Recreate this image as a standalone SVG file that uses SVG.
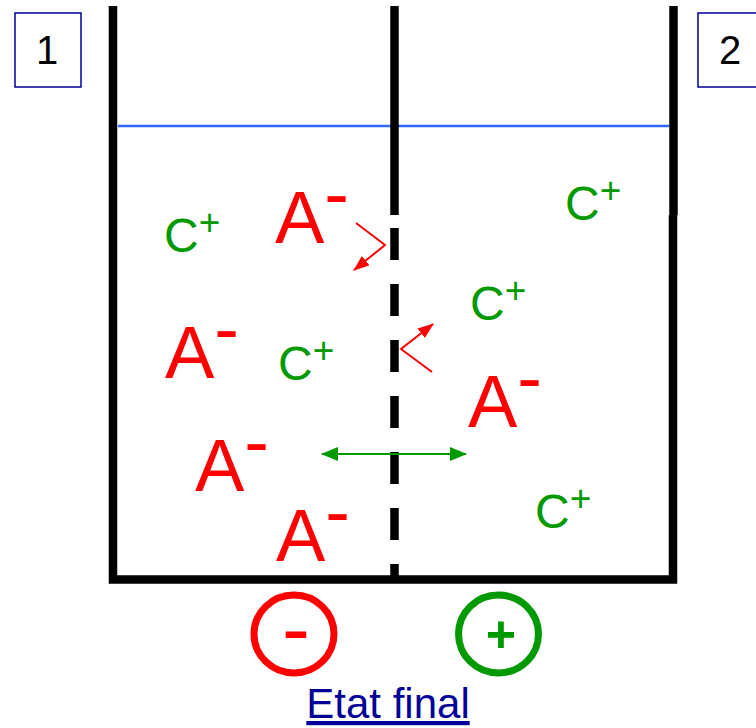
<svg xmlns="http://www.w3.org/2000/svg" width="756" height="728" viewBox="0 0 756 728">
<style>
text{font-family:"Liberation Sans",Arial,sans-serif}
.an{fill:#FF0000;font-size:74px}
.ca{fill:#009900;font-size:48px}
.sup{font-size:37px}
.wall{stroke:#000;fill:none;stroke-width:8.5}
.box{fill:#fff;stroke:#000099;stroke-width:1.5}
.num{font-size:40px;fill:#000;text-anchor:middle}
</style>
<defs>
<marker id="hr" viewBox="0 0 16 12" refX="15" refY="6" markerWidth="16" markerHeight="12" markerUnits="userSpaceOnUse" orient="auto"><path d="M0,0 L16,6 L0,12 z" fill="#FF0000"/></marker>
<marker id="hg" viewBox="0 0 17 14" refX="16" refY="7" markerWidth="17" markerHeight="14" markerUnits="userSpaceOnUse" orient="auto-start-reverse"><path d="M0,0 L17,7 L0,14 z" fill="#009900"/></marker>
</defs>
<rect width="756" height="728" fill="#fff"/>
<g id="box1"><rect class="box" x="15" y="13" width="66" height="74"/><text class="num" x="47" y="64">1</text></g>
<g id="box2"><rect class="box" x="698" y="13" width="66" height="74"/><text class="num" x="730" y="64">2</text></g>
<g id="container">
<line x1="118" y1="126" x2="669" y2="126" stroke="#3366FF" stroke-width="2.5"/>
<line class="wall" x1="113" y1="6" x2="113" y2="150"/>
<path class="wall" d="M113,150 V579.5 H673 V215" stroke-linejoin="miter"/>
<line class="wall" x1="673.5" y1="6" x2="673.5" y2="215" stroke-width="9"/>
<line class="wall" x1="394.5" y1="6" x2="394.5" y2="215" stroke-width="9"/>
<line class="wall" x1="394.5" y1="228" x2="394.5" y2="580" stroke-width="9" stroke-dasharray="32 24"/>
</g>
<g id="anions">
<text class="an" x="275" y="243">A<tspan dy="-24">-</tspan></text>
<text class="an" x="165" y="378">A<tspan dy="-24">-</tspan></text>
<text class="an" x="468" y="427">A<tspan dy="-24">-</tspan></text>
<text class="an" x="195" y="491">A<tspan dy="-24">-</tspan></text>
<text class="an" x="276" y="561">A<tspan dy="-24">-</tspan></text>
</g>
<g id="cations">
<text class="ca" x="164" y="252">C<tspan class="sup" dy="-17">+</tspan></text>
<text class="ca" x="565" y="220">C<tspan class="sup" dy="-17">+</tspan></text>
<text class="ca" x="470" y="320">C<tspan class="sup" dy="-17">+</tspan></text>
<text class="ca" x="278" y="380">C<tspan class="sup" dy="-17">+</tspan></text>
<text class="ca" x="535" y="528">C<tspan class="sup" dy="-17">+</tspan></text>
</g>
<g id="connectors" fill="none">
<polyline points="356,223 385,245 354,270" stroke="#FF0000" stroke-width="2" marker-end="url(#hr)"/>
<polyline points="432,372 401,349 433,324" stroke="#FF0000" stroke-width="2" marker-end="url(#hr)"/>
<line x1="322" y1="454" x2="466" y2="454" stroke="#009900" stroke-width="2" marker-start="url(#hg)" marker-end="url(#hg)"/>
</g>
<g id="neg"><ellipse cx="294" cy="634" rx="40" ry="39" fill="none" stroke="#FF0000" stroke-width="7"/><text x="296" y="657" font-size="84" fill="#FF0000" text-anchor="middle">-</text></g>
<g id="pos"><ellipse cx="498.5" cy="634" rx="40" ry="39" fill="none" stroke="#009900" stroke-width="7"/><text x="501" y="652" font-size="52" font-weight="bold" fill="#009900" text-anchor="middle">+</text></g>
<g id="caption"><text x="388" y="718" font-size="42" fill="#000099" text-anchor="middle" text-decoration="underline">Etat final</text></g>
</svg>
